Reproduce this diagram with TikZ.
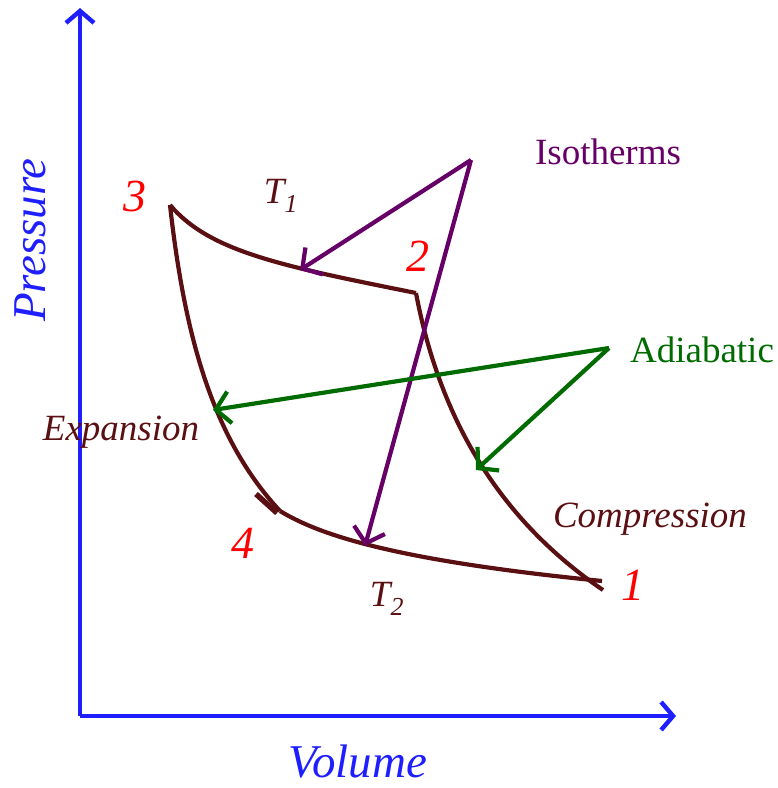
\documentclass[tikz,border=0pt]{standalone}
\usepackage{fontspec}
\setmainfont{Liberation Serif}
\usepackage{xcolor}
\usetikzlibrary{arrows.meta,positioning}
\definecolor{axisblue}{HTML}{1E1EFF}
\definecolor{cyclebrown}{HTML}{5A1012}
\definecolor{isopurple}{HTML}{660066}
\definecolor{adiagreen}{HTML}{006B00}
\definecolor{ptred}{HTML}{FF0000}
\tikzset{
  axis/.style={draw=axisblue,line width=4.4pt,-{Straight Barb[length=12pt,width=28pt,line width=4.4pt]}},
  cycle/.style={draw=cyclebrown,line width=4.2pt},
  isoflow/.style={draw=isopurple,line width=4.2pt,-{Straight Barb[length=14pt,width=32pt,line width=4.2pt]}},
  adiaflow/.style={draw=adiagreen,line width=4.2pt,-{Straight Barb[length=14pt,width=32pt,line width=4.2pt]}},
  ptlabel/.style={text=ptred,font=\fontsize{46}{46}\selectfont\itshape,inner sep=0pt},
  cyclelabel/.style={text=cyclebrown,font=\fontsize{37}{37}\selectfont\itshape,inner sep=0pt},
  axislabel/.style={text=axisblue,font=\fontsize{47}{47}\selectfont\itshape,inner sep=0pt}
}

\begin{document}
\begin{tikzpicture}[x=1pt,y=-1pt]
  \useasboundingbox (0,0) rectangle (778,788);
  % axes
  \coordinate (O) at (80,716);
  \coordinate (ytip) at (80,8);
  \coordinate (xtip) at (676,716);
  \draw[axis] (O)--(ytip);
  \draw[axis] (O)--(xtip);
  \node[axislabel,rotate=90] (pres) at (30,240) {Pressure};
  \node[axislabel] (vol) at (358,762) {Volume};
  % corners of the cycle
  \coordinate (p3) at (170,205);
  \coordinate (p2) at (416,293);
  \coordinate (p1) at (602,581);
  \coordinate (p1a) at (603,590);
  \coordinate (p4) at (280,511);
  % cycle
  \draw[cycle] (p3) .. controls (210,252) and (282,266) .. (p2);
  \draw[cycle] (p2) .. controls (440,420) and (500,520) .. (p1a);
  \draw[cycle] (p3) .. controls (185,340) and (214,440) .. (p4);
  \draw[cycle] (p4) .. controls (318,534) and (390,560) .. (p1);
  \draw[cycle,line width=5.5pt] (256,494)--(277,513);
  % labels
  \node[ptlabel] (l3) at (135,196) {3};
  \node[ptlabel] (l2) at (418,256) {2};
  \node[ptlabel] (l4) at (243,543) {4};
  \node[ptlabel] (l1) at (633,585) {1};
  \node[cyclelabel] (t1) at (281,196) {T\textsubscript{1}};
  \node[cyclelabel] (t2) at (387,599) {T\textsubscript{2}};
  \node[cyclelabel] (exp) at (121,432) {Expansion};
  \node[cyclelabel] (comp) at (650,519) {Compression};
  \node[text=isopurple,font=\fontsize{37}{37}\selectfont,inner sep=0pt] (iso) at (608,152) {Isotherms};
  \node[text=adiagreen,font=\fontsize{37}{37}\selectfont,inner sep=0pt] (adia) at (702,350) {Adiabatic};
  % pointers
  \coordinate (isoapex) at (471,160);
  \coordinate (isohit1) at (300,270);
  \coordinate (isohit2) at (365,546);
  \draw[isoflow] (isoapex)--(isohit1);
  \draw[isoflow] (isoapex)--(isohit2);
  \coordinate (adiaapex) at (609,348);
  \coordinate (adiahit1) at (213,410);
  \coordinate (adiahit2) at (476,470);
  \draw[adiaflow] (adiaapex)--(adiahit1);
  \draw[adiaflow] (adiaapex)--(adiahit2);
\end{tikzpicture}
\end{document}
